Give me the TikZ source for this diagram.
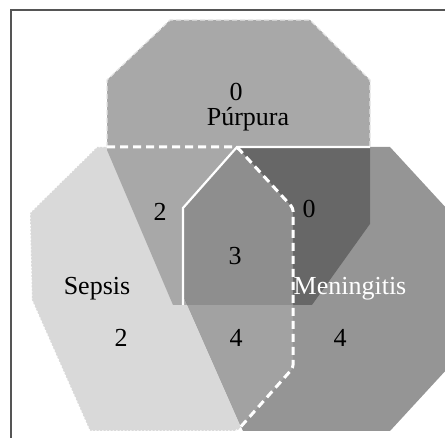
\documentclass[tikz,border=0pt]{standalone}
\usepackage{fontspec}
\setmainfont{Liberation Serif}
\usepackage{tikz}
\definecolor{sepgray}{RGB}{217,217,217}
\definecolor{mengray}{RGB}{149,149,149}
\definecolor{purgray}{RGB}{168,168,168}
\definecolor{smgray}{RGB}{162,162,162}
\definecolor{pmgray}{RGB}{103,103,103}
\definecolor{psmgray}{RGB}{142,142,142}
\definecolor{framegray}{RGB}{85,85,85}
\newcommand{\purpath}{(170,20) -- (310,20) -- (370,80) -- (370,224) -- (312,305) -- (173,305) -- (107,150) -- (107,80) -- cycle}
\newcommand{\seppath}{(97,147) -- (237,147) -- (293,208) -- (293,368) -- (237,431) -- (90,431) -- (32,300) -- (30,213) -- cycle}
\newcommand{\menpath}{(237,147) -- (390,147) -- (448,210) -- (448,368) -- (390,431) -- (243,431) -- (183,295) -- (183,208) -- cycle}

\begin{document}
\begin{tikzpicture}[x=1pt, y=-1pt,
    lbl/.style={font=\fontsize{26}{28}\selectfont, inner sep=0pt},
    outerdash/.style={white!80!gray, line width=1.2pt, dash pattern=on 5pt off 3pt},
    outerdot/.style={white, line width=1pt, dash pattern=on 1.5pt off 2pt},
    sepline/.style={white, line width=3pt, dash pattern=on 8pt off 5pt, rounded corners=3pt},
    menline/.style={white, line width=2.2pt}
]
\useasboundingbox (0,0) rectangle (445,438);
\fill[sepgray] \seppath;
\fill[mengray] \menpath;
\begin{scope}
    \clip \seppath;
    \fill[smgray] \menpath;
\end{scope}
\fill[purgray] \purpath;
\begin{scope}
    \clip \menpath;
    \fill[pmgray] \purpath;
\end{scope}
\begin{scope}
    \clip \seppath;
    \clip \menpath;
    \fill[psmgray] \purpath;
\end{scope}
\draw[outerdash] (107,147) -- (107,80) -- (170,20) -- (310,20) -- (370,80) -- (370,147);
\draw[outerdot] (107,147) -- (97,147) -- (30,213) -- (32,300) -- (90,431) -- (237,431);
\draw[menline] (370,147) -- (237,147) -- (183,208) -- (183,305);
\draw[sepline] (107,147) -- (237,147) -- (293,208) -- (293,368) -- (237,431);
\draw[framegray, line width=1.8pt] (11,10) rectangle (470,470);

\node[lbl, anchor=base] (purnum) at (236,101) {0};
\node[lbl, anchor=base] (purname) at (248,126) {Púrpura};
\node[lbl] (psnum) at (160,212) {2};
\node[lbl] (pmnum) at (309,209) {0};
\node[lbl] (psmnum) at (235,256) {3};
\node[lbl] (sepname) at (97,289) {Sepsis};
\node[lbl, white] (menname) at (350,289) {Meningitis};
\node[lbl] (snum) at (121,338) {2};
\node[lbl] (smnum) at (236,338) {4};
\node[lbl] (mnum) at (340,338) {4};
\end{tikzpicture}
\end{document}
